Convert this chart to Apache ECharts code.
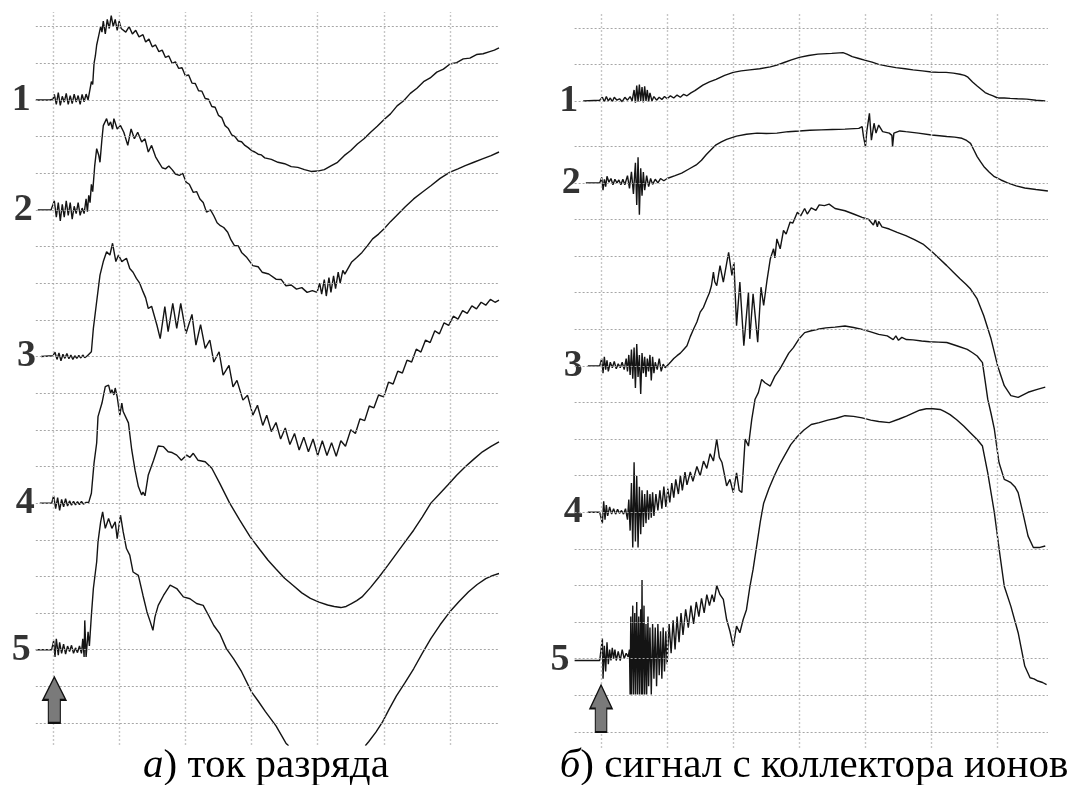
<!DOCTYPE html>
<html>
<head>
<meta charset="utf-8">
<script src="https://cdn.jsdelivr.net/npm/echarts@6/dist/echarts.min.js"></script>
<style>
  html, body { margin: 0; padding: 0; background: #ffffff; }
  #chart { width: 1072px; height: 785px; }
</style>
</head>
<body>
<div id="chart"></div>
<script>
// Oscillograms: (a) discharge current, (b) ion collector signal, shots 1-5.
// x in screen divisions (0 = trigger), y in divisions relative to each trace baseline.
const traceNames = ['1', '2', '3', '4', '5'];
const captionA = ['а', ') ток разряда'];
const captionB = ['б', ') сигнал с коллектора ионов'];

// baselines (division index from bottom grid line)
const dischargeBase = [17, 14, 10, 6, 2];
const ionBase = [17.24, 15, 10, 6, 1.95];

// graticule
const divTicks = [0, 1, 2, 3, 4, 5, 6];
const dischargeLevels = [0, 1, 2, 3, 4, 5, 6, 7, 8, 9, 10, 11, 12, 13, 14, 15, 16, 17, 18, 19];
const ionLevels = [0, 1, 2, 3, 4, 5, 6, 7, 8, 9, 10, 11, 12, 13, 14, 15, 16, 17.24, 18.23, 19.23];

const GAP = '-';

// ---- (a) discharge current ----
const discharge1 = [[-0.26,0],[-0.05,0],[0,0.02],[0.02,0.15],[0.05,-0.12],[0.08,0.2],[0.11,-0.15],[0.14,0.1],[0.17,-0.06],[0.2,0.18],[0.23,-0.12],[0.26,0.12],[0.29,-0.1],[0.32,0.16],[0.35,-0.06],[0.38,0.12],[0.41,-0.12],[0.44,0.15],[0.47,-0.05],[0.5,0.16],[0.53,0],[0.56,0.02],[0.58,0.5],[0.6,0.42],[0.62,1],[0.64,1.2],[0.66,1.5],[0.69,1.75],[0.72,2],[0.74,1.85],[0.76,2.15],[0.79,1.8],[0.82,2.2],[0.85,1.95],[0.88,2.3],[0.91,2],[0.94,2.2],[0.97,1.9],[1,2.15],[1.03,1.95],[1.06,2],[1.1,1.85],[1.15,2],[1.2,1.8],[1.25,1.9],[1.3,1.72],[1.36,1.78],[1.4,1.58],[1.45,1.66],[1.5,1.45],[1.55,1.5],[1.6,1.32],[1.65,1.36],[1.7,1.16],[1.75,1.2],[1.8,1],[1.85,1.04],[1.9,0.86],[1.95,0.88],[2,0.66],[2.05,0.68],[2.1,0.46],[2.15,0.45],[2.2,0.25],[2.25,0.24],[2.3,0.04],[2.35,0.02],[2.4,-0.18],[2.45,-0.2],[2.5,-0.42],[2.55,-0.48],[2.6,-0.7],[2.65,-0.78],[2.7,-0.95],[2.75,-1],[2.8,-1.12],[2.85,-1.14],[2.9,-1.24],[2.95,-1.3],[3,-1.38],[3.05,-1.42],[3.1,-1.48],[3.15,-1.5],[3.2,-1.58],[3.3,-1.62],[3.4,-1.7],[3.5,-1.74],[3.6,-1.82],[3.7,-1.84],[3.8,-1.9],[3.9,-1.95],[4,-1.94],[4.1,-1.9],[4.2,-1.8],[4.3,-1.7],[4.4,-1.52],[4.5,-1.38],[4.6,-1.2],[4.7,-1.06],[4.8,-0.88],[4.9,-0.72],[5,-0.54],[5.1,-0.38],[5.2,-0.16],[5.3,-0.02],[5.4,0.18],[5.5,0.32],[5.6,0.5],[5.7,0.6],[5.8,0.76],[5.9,0.84],[6,0.98],[6.1,1.02],[6.2,1.12],[6.3,1.14],[6.4,1.24],[6.5,1.26],[6.6,1.32],[6.67,1.36],[6.74,1.42]];

const discharge2 = [[-0.23,0],[-0.03,0],[0.02,0.25],[0.05,-0.2],[0.08,0.2],[0.11,-0.3],[0.14,0.15],[0.17,-0.2],[0.2,0.25],[0.23,-0.15],[0.26,0.2],[0.29,-0.25],[0.32,0.1],[0.35,-0.1],[0.38,0.2],[0.41,-0.15],[0.44,0.05],[0.47,-0.1],[0.5,0.3],[0.52,-0.05],[0.54,0.4],[0.56,0.2],[0.58,0.7],[0.6,0.5],[0.63,1.2],[0.66,1.67],[0.69,1.5],[0.71,1.3],[0.74,1.94],[0.76,2.3],[0.81,2.49],[0.84,2.3],[0.87,2.4],[0.9,2.2],[0.92,2.49],[0.97,2.21],[1.02,2.3],[1.07,2.12],[1.13,1.76],[1.18,2.21],[1.23,1.94],[1.28,2.12],[1.34,1.85],[1.39,1.94],[1.44,1.58],[1.49,1.76],[1.55,1.45],[1.6,1.3],[1.65,1.15],[1.7,1.12],[1.75,1.2],[1.8,1.1],[1.85,0.98],[1.91,0.94],[1.96,1],[2.01,0.76],[2.06,0.7],[2.12,0.48],[2.17,0.5],[2.22,0.3],[2.27,0.2],[2.32,-0.06],[2.38,0],[2.43,-0.16],[2.48,-0.35],[2.53,-0.43],[2.58,-0.48],[2.64,-0.61],[2.69,-0.82],[2.74,-0.97],[2.8,-0.98],[2.85,-1.16],[2.93,-1.3],[3.02,-1.52],[3.1,-1.55],[3.16,-1.7],[3.26,-1.75],[3.37,-1.89],[3.45,-1.9],[3.52,-2.07],[3.6,-2.05],[3.68,-2.16],[3.76,-2.12],[3.84,-2.25],[3.92,-2.2],[3.99,-2.25],[4.03,-2],[4.06,-2.3],[4.1,-1.9],[4.13,-2.35],[4.17,-1.85],[4.2,-2.25],[4.24,-1.8],[4.27,-2.15],[4.31,-1.7],[4.34,-2],[4.38,-1.65],[4.41,-1.75],[4.51,-1.43],[4.59,-1.3],[4.67,-1.16],[4.75,-0.98],[4.83,-0.79],[4.92,-0.66],[5,-0.52],[5.1,-0.32],[5.19,-0.16],[5.32,0.08],[5.45,0.3],[5.58,0.48],[5.71,0.66],[5.85,0.86],[6,1.03],[6.12,1.12],[6.23,1.21],[6.36,1.3],[6.49,1.39],[6.62,1.48],[6.74,1.58]];

const discharge3 = [[-0.18,0],[0,0.02],[0.03,0.12],[0.06,-0.08],[0.09,0.1],[0.12,-0.12],[0.15,0.06],[0.18,-0.05],[0.21,0.08],[0.24,-0.06],[0.27,0.04],[0.3,-0.08],[0.33,0.02],[0.36,-0.05],[0.39,0.03],[0.42,-0.04],[0.45,0.04],[0.48,-0.03],[0.52,0.02],[0.55,0],[0.58,0.13],[0.61,0.77],[0.66,1.5],[0.71,2.22],[0.76,2.59],[0.81,2.86],[0.86,2.77],[0.9,3.09],[0.95,2.59],[0.99,2.77],[1.04,2.59],[1.11,2.68],[1.16,2.4],[1.21,2.3],[1.26,2.13],[1.31,2],[1.36,1.77],[1.4,1.6],[1.44,1.31],[1.49,1.37],[1.57,0.86],[1.62,0.49],[1.69,1.36],[1.74,0.68],[1.81,1.45],[1.87,0.77],[1.93,1.45],[2.01,0.63],[2.1,1.15],[2.16,0.31],[2.23,0.87],[2.3,0.22],[2.37,0.45],[2.43,-0.15],[2.51,0.13],[2.57,-0.51],[2.66,-0.24],[2.72,-0.83],[2.78,-0.65],[2.87,-1.19],[2.94,-1.06],[3.02,-1.6],[3.09,-1.33],[3.17,-1.88],[3.23,-1.6],[3.3,-2.05],[3.37,-1.8],[3.44,-2.25],[3.51,-1.95],[3.58,-2.4],[3.65,-2.1],[3.72,-2.55],[3.79,-2.2],[3.86,-2.6],[3.93,-2.25],[4,-2.7],[4.07,-2.3],[4.14,-2.7],[4.21,-2.35],[4.28,-2.72],[4.35,-2.3],[4.42,-2.45],[4.5,-2],[4.57,-2.1],[4.64,-1.7],[4.71,-1.75],[4.78,-1.35],[4.85,-1.4],[4.92,-1.05],[5,-1.1],[5.07,-0.7],[5.14,-0.75],[5.21,-0.4],[5.28,-0.45],[5.35,-0.1],[5.42,-0.15],[5.49,0.2],[5.56,0.12],[5.63,0.45],[5.7,0.38],[5.77,0.7],[5.84,0.62],[5.91,0.92],[5.98,0.85],[6.05,1.1],[6.12,1.02],[6.19,1.25],[6.26,1.18],[6.33,1.38],[6.4,1.3],[6.47,1.48],[6.54,1.4],[6.61,1.56],[6.68,1.48],[6.74,1.54]];

const discharge4 = [[-0.2,0],[-0.02,0],[0.01,0.2],[0.04,-0.15],[0.07,0.15],[0.1,-0.2],[0.13,0.1],[0.16,-0.1],[0.19,0.12],[0.22,-0.08],[0.25,0.06],[0.28,-0.06],[0.31,0.05],[0.34,-0.05],[0.37,0.04],[0.4,-0.04],[0.43,0.05],[0.46,-0.03],[0.5,0.02],[0.54,0.02],[0.58,0.27],[0.62,1.09],[0.66,1.64],[0.68,2.36],[0.74,2.73],[0.79,3.18],[0.84,3.22],[0.87,3],[0.89,3.09],[0.92,2.95],[0.94,3.14],[0.97,2.9],[0.99,2.9],[1.01,2.4],[1.04,2.73],[1.06,2.5],[1.09,2.54],[1.14,2.19],[1.19,1.45],[1.24,0.9],[1.29,0.45],[1.34,0.22],[1.36,0.3],[1.39,0.2],[1.44,0.77],[1.52,1.17],[1.59,1.56],[1.67,1.54],[1.74,1.4],[1.8,1.38],[1.87,1.31],[1.94,1.17],[2.02,1.31],[2.07,1.25],[2.12,1.36],[2.19,1.17],[2.3,1.13],[2.4,0.95],[2.52,0.54],[2.67,0],[2.82,-0.46],[2.98,-0.92],[3.13,-1.28],[3.25,-1.56],[3.37,-1.8],[3.5,-2.05],[3.63,-2.25],[3.76,-2.45],[3.89,-2.6],[4.02,-2.7],[4.15,-2.78],[4.25,-2.82],[4.35,-2.85],[4.43,-2.82],[4.51,-2.74],[4.59,-2.66],[4.67,-2.56],[4.8,-2.3],[4.93,-2.01],[5.06,-1.7],[5.19,-1.38],[5.32,-1.06],[5.45,-0.74],[5.58,-0.38],[5.71,0],[5.84,0.25],[5.97,0.5],[6.1,0.76],[6.23,0.99],[6.36,1.2],[6.49,1.4],[6.62,1.55],[6.74,1.67]];

const discharge5 = [[-0.26,0],[-0.02,0],[0.01,0.25],[0.03,-0.2],[0.05,0.3],[0.08,-0.15],[0.1,0.2],[0.13,-0.1],[0.16,0.15],[0.19,-0.12],[0.22,0.1],[0.25,-0.05],[0.28,0.12],[0.31,-0.1],[0.34,0.05],[0.37,-0.08],[0.4,0.1],[0.43,-0.1],[0.45,0.3],[0.47,-0.2],[0.48,0.8],[0.5,-0.2],[0.53,0.49],[0.55,0.1],[0.58,0.94],[0.61,1.67],[0.66,2.4],[0.68,2.94],[0.72,3.49],[0.75,3.76],[0.79,3.31],[0.84,3.58],[0.89,3.31],[0.94,3.49],[0.97,3.03],[1.02,3.67],[1.06,3.22],[1.11,2.76],[1.16,2.58],[1.21,2.12],[1.29,2.03],[1.36,1.48],[1.42,1.03],[1.47,0.76],[1.51,0.53],[1.54,0.89],[1.59,1.21],[1.67,1.48],[1.77,1.76],[1.87,1.67],[1.97,1.44],[2.07,1.39],[2.17,1.26],[2.27,1.21],[2.35,0.94],[2.43,0.66],[2.52,0.44],[2.62,0.03],[2.73,-0.25],[2.85,-0.6],[3,-1.15],[3.1,-1.4],[3.21,-1.69],[3.37,-2.08],[3.52,-2.55],[3.56,-2.62],[4.1,GAP],[4.72,-2.62],[4.77,-2.51],[4.88,-2.25],[4.98,-1.97],[5.08,-1.62],[5.19,-1.26],[5.32,-0.9],[5.45,-0.52],[5.58,-0.1],[5.71,0.3],[5.85,0.68],[6,1.04],[6.14,1.32],[6.28,1.58],[6.41,1.78],[6.54,1.94],[6.64,2.02],[6.74,2.08]];

// ---- (b) ion collector signal ----
const ion1 = [[-0.27,0],[-0.02,0.02],[0.02,0.1],[0.05,-0.02],[0.08,0.12],[0.11,0],[0.14,0.08],[0.17,-0.02],[0.2,0.1],[0.24,0.02],[0.28,0.06],[0.32,-0.02],[0.36,0.1],[0.4,0.02],[0.44,0.12],[0.47,0],[0.5,0.3],[0.52,-0.05],[0.54,0.42],[0.56,-0.02],[0.58,0.45],[0.6,0],[0.62,0.38],[0.64,-0.04],[0.66,0.4],[0.68,0],[0.7,0.3],[0.72,-0.02],[0.74,0.22],[0.77,0],[0.8,0.12],[0.84,0.02],[0.88,0.1],[0.92,0.04],[0.96,0.12],[1,0.06],[1.05,0.14],[1.1,0.08],[1.15,0.16],[1.2,0.1],[1.25,0.18],[1.3,0.14],[1.36,0.22],[1.42,0.28],[1.54,0.43],[1.64,0.52],[1.74,0.59],[1.87,0.7],[2,0.78],[2.12,0.82],[2.25,0.85],[2.4,0.88],[2.56,0.93],[2.66,0.98],[2.77,1.05],[2.88,1.12],[3,1.19],[3.14,1.24],[3.28,1.28],[3.49,1.3],[3.66,1.32],[3.72,1.28],[3.8,1.21],[3.9,1.16],[4,1.11],[4.1,1.06],[4.2,1],[4.33,0.95],[4.46,0.91],[4.6,0.88],[4.72,0.85],[4.86,0.82],[5,0.79],[5.11,0.78],[5.22,0.78],[5.33,0.76],[5.43,0.73],[5.5,0.7],[5.55,0.65],[5.62,0.52],[5.69,0.41],[5.75,0.32],[5.81,0.23],[5.87,0.18],[5.93,0.14],[6,0.08],[6.1,0.08],[6.19,0.07],[6.3,0.06],[6.44,0.05],[6.58,0.02],[6.72,0]];

const ion2 = [[-0.23,0],[-0.02,0],[0.01,0.15],[0.03,-0.2],[0.05,0.1],[0.07,-0.1],[0.09,0.18],[0.12,0.02],[0.15,0.12],[0.18,-0.05],[0.21,0.1],[0.24,0],[0.27,0.08],[0.3,-0.05],[0.33,0.1],[0.36,-0.05],[0.4,0.2],[0.43,-0.15],[0.46,0.3],[0.49,-0.3],[0.52,0.55],[0.54,-0.6],[0.56,0.7],[0.58,-0.87],[0.6,0.4],[0.62,-0.35],[0.64,0.3],[0.66,-0.2],[0.69,0.2],[0.72,-0.1],[0.75,0.12],[0.78,-0.04],[0.82,0.1],[0.86,0],[0.9,0.12],[0.95,0.06],[1,0.12],[1.03,0.17],[1.12,0.2],[1.22,0.27],[1.33,0.38],[1.44,0.49],[1.52,0.62],[1.59,0.77],[1.66,0.9],[1.74,1.04],[1.82,1.12],[1.9,1.19],[2.05,1.28],[2.2,1.33],[2.36,1.36],[2.5,1.35],[2.66,1.36],[2.83,1.4],[3,1.42],[3.16,1.44],[3.33,1.45],[3.5,1.46],[3.69,1.47],[3.9,1.49],[3.95,1.54],[3.97,1.27],[4,0.99],[4.02,1.4],[4.06,1.9],[4.09,1.17],[4.13,1.63],[4.16,1.36],[4.2,1.58],[4.26,1.4],[4.36,1.36],[4.4,1.3],[4.41,0.99],[4.43,1.36],[4.52,1.42],[4.61,1.4],[4.8,1.36],[5,1.31],[5.12,1.29],[5.23,1.27],[5.35,1.25],[5.46,1.22],[5.53,1.16],[5.59,1.08],[5.64,0.9],[5.69,0.72],[5.74,0.58],[5.79,0.45],[5.87,0.3],[5.95,0.17],[6.05,0.08],[6.15,0],[6.28,-0.08],[6.41,-0.14],[6.58,-0.18],[6.76,-0.22]];

const ion3 = [[-0.2,0],[-0.02,0],[0.01,0.2],[0.03,-0.2],[0.05,0.25],[0.07,-0.1],[0.09,0.15],[0.11,-0.15],[0.14,0.1],[0.17,-0.05],[0.2,0.12],[0.23,-0.08],[0.26,0.06],[0.29,-0.05],[0.32,0.1],[0.35,-0.1],[0.38,0.2],[0.4,-0.15],[0.42,0.3],[0.44,-0.25],[0.46,0.45],[0.48,-0.35],[0.5,0.5],[0.52,-0.6],[0.54,0.6],[0.56,-0.3],[0.58,0.3],[0.6,-0.77],[0.62,0.35],[0.64,-0.2],[0.66,0.25],[0.68,-0.3],[0.7,0.2],[0.72,-0.15],[0.74,0.3],[0.76,-0.4],[0.78,0.25],[0.8,-0.2],[0.82,0.1],[0.85,-0.1],[0.88,0.2],[0.91,-0.15],[0.94,0.05],[0.97,-0.05],[0.99,0],[1.05,0.1],[1.1,0.2],[1.15,0.28],[1.2,0.35],[1.25,0.45],[1.3,0.55],[1.35,0.8],[1.4,1.01],[1.45,1.2],[1.5,1.47],[1.55,1.6],[1.6,1.83],[1.64,2],[1.67,2.19],[1.7,2.56],[1.72,2.3],[1.75,2.19],[1.8,2.74],[1.85,2.29],[1.9,2.8],[1.93,3.1],[1.98,2.47],[2.01,2.83],[2.05,1.1],[2.1,2.29],[2.16,0.55],[2.23,2.01],[2.25,0.74],[2.3,1.97],[2.37,0.65],[2.42,2.15],[2.46,1.65],[2.51,2.33],[2.56,2.92],[2.61,3.2],[2.63,2.95],[2.66,3.47],[2.71,3.2],[2.76,3.7],[2.8,3.6],[2.86,3.93],[2.9,3.9],[2.97,4.2],[3.02,4.1],[3.08,4.3],[3.12,4.15],[3.18,4.32],[3.25,4.25],[3.3,4.4],[3.38,4.38],[3.45,4.42],[3.54,4.3],[3.69,4.24],[3.82,4.15],[3.95,4.06],[4.05,4],[4.12,3.85],[4.15,4],[4.18,3.8],[4.2,3.95],[4.25,3.8],[4.36,3.74],[4.48,3.65],[4.61,3.56],[4.74,3.45],[4.87,3.33],[5.02,3.1],[5.12,2.93],[5.23,2.74],[5.33,2.56],[5.43,2.38],[5.52,2.23],[5.59,2.1],[5.69,1.83],[5.79,1.37],[5.9,0.74],[6,0],[6.1,-0.54],[6.2,-0.81],[6.31,-0.86],[6.46,-0.72],[6.6,-0.64],[6.72,-0.58]];

const ion4 = [[-0.2,0],[-0.02,0],[0,0.05],[0.02,-0.3],[0.04,0.3],[0.06,-0.2],[0.08,0.2],[0.1,-0.1],[0.13,0.15],[0.16,-0.05],[0.19,0.1],[0.22,-0.05],[0.25,0.08],[0.28,-0.03],[0.31,0.05],[0.34,-0.05],[0.37,0.1],[0.4,-0.2],[0.42,0.35],[0.44,-0.5],[0.46,0.8],[0.48,-0.96],[0.5,1.37],[0.52,-0.8],[0.54,1],[0.56,-0.96],[0.58,0.7],[0.6,-0.6],[0.62,0.6],[0.64,-0.4],[0.66,0.5],[0.68,-0.3],[0.7,0.6],[0.72,-0.2],[0.74,0.5],[0.76,-0.15],[0.78,0.55],[0.8,-0.1],[0.83,0.5],[0.86,0.05],[0.89,0.6],[0.92,0.1],[0.95,0.7],[0.98,0.15],[1.01,0.65],[1.04,0.27],[1.07,0.8],[1.1,0.4],[1.13,0.9],[1.17,0.5],[1.2,1],[1.23,0.6],[1.27,1.1],[1.3,0.75],[1.35,1.1],[1.39,0.85],[1.45,1.25],[1.5,1],[1.55,1.4],[1.6,1.2],[1.65,1.6],[1.7,1.4],[1.75,2],[1.79,1.5],[1.83,1.36],[1.87,1],[1.9,0.72],[1.95,0.9],[2,0.54],[2.05,1.08],[2.09,0.6],[2.13,0.54],[2.18,2],[2.23,1.81],[2.28,2.54],[2.33,3.09],[2.38,3.27],[2.43,3.63],[2.48,3.54],[2.56,3.45],[2.63,3.72],[2.7,3.9],[2.76,4.09],[2.84,4.35],[2.91,4.5],[3,4.75],[3.08,4.91],[3.18,4.96],[3.28,5],[3.4,5.04],[3.54,5.06],[3.69,5.09],[3.82,5.05],[3.95,5],[4.08,4.93],[4.2,4.86],[4.33,4.82],[4.42,4.72],[4.46,4.82],[4.5,4.7],[4.55,4.78],[4.62,4.72],[4.72,4.71],[4.85,4.68],[4.97,4.66],[5.1,4.65],[5.23,4.64],[5.38,4.55],[5.54,4.45],[5.62,4.36],[5.69,4.27],[5.77,4.09],[5.81,3.6],[5.85,3.09],[5.9,2.7],[5.95,2.27],[6.02,1.36],[6.1,0.9],[6.15,0.86],[6.2,0.81],[6.26,0.7],[6.31,0.54],[6.38,0],[6.46,-0.65],[6.54,-0.96],[6.64,-0.96],[6.72,-0.92]];

const ion5 = [[-0.4,0],[-0.02,0],[0,0.05],[0.02,0.6],[0.03,-0.5],[0.05,0.4],[0.07,-0.3],[0.09,0.5],[0.11,-0.1],[0.13,0.3],[0.15,0],[0.17,0.35],[0.19,0.05],[0.21,0.3],[0.23,0],[0.26,0.25],[0.29,0],[0.32,0.3],[0.35,0.05],[0.38,0.2],[0.41,0.1],[0.43,0.3],[0.44,-0.93],[0.45,1.2],[0.46,-0.93],[0.48,1.5],[0.49,-0.93],[0.51,1.3],[0.52,-0.93],[0.54,1.6],[0.55,-0.93],[0.57,1.2],[0.58,-0.93],[0.6,1.4],[0.61,-0.93],[0.62,2.2],[0.63,-0.93],[0.65,1.5],[0.66,-0.93],[0.68,1],[0.69,-0.93],[0.71,1.2],[0.72,-0.7],[0.74,0.9],[0.76,-0.93],[0.78,1],[0.8,-0.5],[0.82,0.9],[0.84,-0.7],[0.86,1],[0.88,-0.4],[0.9,0.8],[0.92,-0.5],[0.94,0.9],[0.96,-0.3],[0.98,0.8],[1,-0.1],[1.03,1],[1.06,0.2],[1.09,1.1],[1.12,0.3],[1.15,1.2],[1.18,0.5],[1.21,1.3],[1.24,0.7],[1.28,1.4],[1.32,0.9],[1.36,1.5],[1.4,1],[1.44,1.6],[1.48,1.2],[1.52,1.7],[1.56,1.3],[1.6,1.8],[1.64,1.5],[1.68,1.8],[1.71,1.6],[1.75,2.05],[1.8,1.8],[1.85,1.67],[1.9,1.12],[1.95,0.8],[2,0.39],[2.05,0.94],[2.1,0.76],[2.15,1.12],[2.2,1.39],[2.25,2],[2.3,2.49],[2.36,3.2],[2.41,3.8],[2.46,4.3],[2.54,4.7],[2.62,5.04],[2.7,5.35],[2.77,5.58],[2.87,5.9],[2.97,6.12],[3.07,6.3],[3.18,6.45],[3.3,6.5],[3.43,6.57],[3.56,6.62],[3.69,6.69],[3.82,6.67],[3.95,6.63],[4.08,6.57],[4.2,6.53],[4.36,6.5],[4.51,6.6],[4.62,6.68],[4.72,6.76],[4.82,6.84],[4.92,6.88],[5.02,6.88],[5.13,6.86],[5.2,6.8],[5.28,6.72],[5.38,6.58],[5.49,6.4],[5.59,6.22],[5.69,6.04],[5.77,5.86],[5.85,5.13],[5.95,4.04],[6.03,2.94],[6.1,2.03],[6.2,1.48],[6.31,0.76],[6.41,-0.15],[6.49,-0.47],[6.55,-0.5],[6.61,-0.56],[6.68,-0.6],[6.74,-0.66]];

// trigger marker position (division coordinates)
const triggerA = [0.02, 0.63];
const triggerB = [0, 0.64];

const dischargeTraces = [discharge1, discharge2, discharge3, discharge4, discharge5];
const ionTraces = [ion1, ion2, ion3, ion4, ion5];

function placeTrace(trace, base) {
  return trace.map(p => [p[0], p[1] === GAP ? GAP : Math.round((base + p[1]) * 1000) / 1000]);
}

const TRACE_COLOR = '#141414';
const SERIF = 'Liberation Serif';
const ARROW = 'path://M11.5,0 L23,23 L17.5,23 L17.5,46 L5.5,46 L5.5,23 L0,23 Z';

function graticule(idx, vlines, hlines) {
  return {
    type: 'line', xAxisIndex: idx, yAxisIndex: idx, data: [], silent: true, z: 1,
    markLine: {
      silent: true, animation: false, symbol: ['none', 'none'], label: { show: false },
      emphasis: { disabled: true },
      data: vlines.map(v => ({ xAxis: v, lineStyle: { color: '#c6c6c6', width: 1.4, type: [2, 2] } }))
        .concat(hlines.map(v => ({ yAxis: v, lineStyle: { color: '#a6a6a6', width: 1, type: [2, 2] } })))
    }
  };
}

function traceSeries(idx, traces, bases) {
  return traces.map((t, i) => ({
    type: 'line', xAxisIndex: idx, yAxisIndex: idx, z: 3,
    data: placeTrace(t, bases[i]),
    showSymbol: false, silent: true, clip: true, connectNulls: false,
    lineStyle: { color: TRACE_COLOR, width: 1.4 },
    emphasis: { disabled: true }
  }));
}

function nameSeries(idx, traces, bases) {
  return {
    type: 'scatter', xAxisIndex: idx, yAxisIndex: idx, z: 4, silent: true,
    symbolSize: 0, clip: false,
    data: traces.map((t, i) => ({ value: [t[0][0], bases[i] + t[0][1]], name: traceNames[i] })),
    label: {
      show: true, position: 'left', distance: 5, formatter: p => p.name,
      fontFamily: SERIF, fontWeight: 'bold', fontSize: 38, color: '#000'
    }
  };
}

function triggerSeries(idx, pos, w, h) {
  return {
    type: 'scatter', xAxisIndex: idx, yAxisIndex: idx, z: 5, silent: true,
    symbol: ARROW, symbolSize: [w, h], data: [pos],
    itemStyle: { color: '#7a7a7a', borderColor: '#111', borderWidth: 1.5, opacity: 1 }
  };
}

const hiddenX = (min, max, gi) => ({ type: 'value', gridIndex: gi, min, max, show: false });
const hiddenY = (min, max, gi) => ({ type: 'value', gridIndex: gi, min, max, show: false });

const chart = echarts.init(document.getElementById('chart'), null, { renderer: 'canvas' });
chart.setOption({
  animation: false,
  backgroundColor: '#ffffff',
  grid: [
    { left: 35.8, top: 12, width: 463.2, height: 733 },
    { left: 574.6, top: 12, width: 473.3, height: 736 }
  ],
  xAxis: [hiddenX(-0.26, 6.74, 0), hiddenX(-0.4, 6.76, 1)],
  yAxis: [hiddenY(-0.6, 19.4, 0), hiddenY(-0.44, 19.67, 1)],
  series: [
    graticule(0, divTicks, dischargeLevels),
    graticule(1, divTicks, ionLevels),
    ...traceSeries(0, dischargeTraces, dischargeBase),
    ...traceSeries(1, ionTraces, ionBase),
    nameSeries(0, dischargeTraces, dischargeBase),
    nameSeries(1, ionTraces, ionBase),
    triggerSeries(0, triggerA, 23, 46),
    triggerSeries(1, triggerB, 22, 47)
  ],
  graphic: [
    {
      type: 'text', x: 266, y: 766, silent: true,
      style: {
        text: '{i|' + captionA[0] + '}' + captionA[1],
        fontFamily: SERIF, fontSize: 41, fill: '#000', align: 'center', verticalAlign: 'middle',
        rich: { i: { fontStyle: 'italic', fontFamily: SERIF, fontSize: 41 } }
      }
    },
    {
      type: 'text', x: 814, y: 766, silent: true,
      style: {
        text: '{i|' + captionB[0] + '}' + captionB[1],
        fontFamily: SERIF, fontSize: 41, fill: '#000', align: 'center', verticalAlign: 'middle',
        rich: { i: { fontStyle: 'italic', fontFamily: SERIF, fontSize: 41 } }
      }
    }
  ]
});
</script>
</body>
</html>
